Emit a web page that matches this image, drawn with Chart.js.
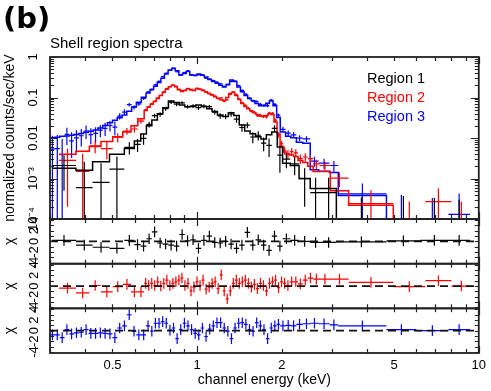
<!DOCTYPE html>
<html>
<head>
<meta charset="utf-8">
<title>Shell region spectra</title>
<script src="https://cdn.jsdelivr.net/npm/chart.js@4.4.1/dist/chart.umd.min.js"></script>
<style>
html, body { margin: 0; padding: 0; background: #ffffff; }
canvas { display: block; }
</style>
</head>
<body>
<canvas id="chart" width="491" height="391"></canvas>
<script>
// ---------------- data ----------------
const panelLabel = '(b)';
const plotTitle = 'Shell region spectra';
const regionNames = ['Region 1', 'Region 2', 'Region 3'];

// axis tick values / labels
const energyTickMarks = [0.3, 0.4, 0.5, 0.6, 0.7, 0.8, 0.9, 1, 2, 3, 4, 5, 6, 7, 8, 9, 10];
const energyTickValues = [0.5, 1, 2, 5, 10];
const energyTickLabels = ['0.5', '1', '2', '5', '10'];
const countTickValues = [1e-4, 1e-3, 0.01, 0.1, 1];
const countTickLabels = ['10\u207B\u2074', '10\u207B\u00B3', '0.01', '0.1', '1'];
const chiTickValues = [-4, -2, 0, 2, 4];
const chiTickMarks = [-4, -3, -2, -1, 0, 1, 2, 3, 4];

// Region 1 (black): bin edges (keV), rate, error, model, chi residual
const edges1 = [0.305,0.371,0.425,0.488,0.551,0.598,0.630,0.660,0.690,0.722,
  0.755,0.790,0.826,0.864,0.904,0.945,0.988,1.033,1.080,1.129,
  1.180,1.234,1.290,1.349,1.410,1.474,1.541,1.611,1.684,1.760,
  1.840,1.924,2.01,2.14,2.30,2.52,2.75,3.12,4.70,6.20,7.80,9.30];
const model1 = [0.0018,0.0016,0.0026,0.0040,0.0055,0.0085,0.0125,0.020,0.028,0.040,
  0.056,0.082,0.075,0.065,0.059,0.060,0.065,0.060,0.053,0.045,
  0.037,0.034,0.042,0.036,0.021,0.015,0.0128,0.0108,0.0095,0.0120,
  0.0140,0.0060,0.0024,0.0021,0.0010,0.00057,0.00057,0.00003,0.00003,0.00003,0.00003];
const rate1 = [0.0021,0.0006,0.0008,0.0017,0.0059,0.0070,0.0098,0.0218,0.0356,0.0385,
  0.053,0.0768,0.0685,0.0738,0.0597,0.062,0.0562,0.0613,0.0593,0.0438,
  0.0354,0.034,0.0392,0.0292,0.0182,0.0208,0.0106,0.0117,0.0075,0.0066,
  0.0174,0.0038,0.0030,0.0023,0.0010,0.00045,0.00045,0.00004,0.0,0.0,0.0];
const err1 = [0.0016,0.0020,0.0016,0.0018,0.0020,0.0025,0.003,0.0035,0.0042,0.005,
  0.006,0.0075,0.0072,0.0068,0.0065,0.0066,0.0068,0.0066,0.0063,0.0058,
  0.0053,0.005,0.0056,0.0052,0.004,0.0034,0.0032,0.003,0.0028,0.0032,
  0.0034,0.0024,0.0012,0.0011,0.0008,0.0006,0.0006,0.0003,0.00037,0.00033,0.0003];
const chi1 = [0.2,-0.7,-1.1,-1.3,0.2,-0.6,-0.9,0.5,1.8,-0.3,
  -0.5,-0.7,-0.9,1.3,0.1,0.3,-1.3,0.2,1.0,-0.2,
  -0.3,0.0,-0.5,-1.3,-0.7,1.7,-0.7,0.3,-0.7,-1.7,
  1.0,-0.9,0.5,0.2,0.0,-0.2,-0.2,-0.1,0.1,0.2,0.2];

// Region 2 (red)
const edges2 = [0.323,0.371,0.414,0.455,0.501,0.544,0.582,0.615,0.648,
  0.664,0.681,0.698,0.715,0.733,0.752,0.770,0.790,0.809,0.830,
  0.850,0.872,0.893,0.916,0.939,0.962,0.986,1.011,1.036,1.062,
  1.089,1.116,1.144,1.172,1.202,1.232,1.262,1.294,1.327,1.360,
  1.394,1.428,1.464,1.501,1.538,1.577,1.616,1.656,1.698,1.740,
  1.784,1.828,1.874,1.921,1.969,2.018,
  2.07,2.13,2.20,2.28,2.37,2.47,2.58,2.72,2.97,3.45,4.97,6.46,8.00,9.40];
const model2 = [0.0040,0.0047,0.0062,0.0082,0.0108,0.0140,0.020,0.030,
  0.048,0.058,0.068,0.080,0.095,0.112,0.135,0.160,0.185,0.200,
  0.185,0.155,0.140,0.150,0.165,0.158,0.150,0.165,0.160,0.148,
  0.138,0.126,0.115,0.105,0.096,0.088,0.085,0.100,0.125,0.135,
  0.112,0.089,0.071,0.060,0.053,0.047,0.042,0.038,0.035,0.034,
  0.036,0.040,0.038,0.025,0.0125,0.0063,
  0.0045,0.0040,0.0038,0.0035,0.0028,0.0025,0.0020,0.0015,0.0015,0.0005,0.00022,0.00004,0.00004,0.00004];
const rate2 = [0.0028,0.0015,0.0064,0.0055,0.0105,0.0148,0.0167,0.026,
  0.0495,0.0583,0.0699,0.0804,0.0986,0.112,0.138,0.167,0.186,0.203,
  0.190,0.162,0.149,0.151,0.168,0.152,0.149,0.170,0.161,0.155,
  0.135,0.125,0.118,0.109,0.094,0.098,0.081,0.088,0.120,0.138,
  0.118,0.091,0.074,0.064,0.055,0.046,0.043,0.036,0.0365,0.0343,
  0.0333,0.0416,0.0405,0.0278,0.0120,0.0073,
  0.0050,0.0041,0.0046,0.0043,0.0031,0.0034,0.0031,0.0023,0.0021,0.00102,0.00024,0.0,0.00027,0.0];
const err2 = [0.0026,0.0026,0.0022,0.0025,0.0027,0.0028,0.003,0.0036,
  0.003,0.0033,0.0037,0.004,0.0045,0.005,0.0055,0.006,0.0065,0.0068,
  0.0065,0.006,0.0057,0.0059,0.0062,0.0061,0.0059,0.0062,0.0061,0.0059,
  0.0057,0.0055,0.0052,0.005,0.0048,0.0046,0.0045,0.0049,0.0055,0.0057,
  0.0052,0.0046,0.0041,0.0038,0.0036,0.0034,0.0032,0.0031,0.003,0.003,
  0.003,0.0032,0.0031,0.0025,0.0018,0.0013,
  0.0011,0.001,0.001,0.00095,0.00085,0.0008,0.0007,0.0006,0.0005,0.0004,0.00028,0.00027,0.00031,0.00027];
const chi2 = [-0.4,-1.3,0.1,-1.1,-0.1,0.3,-1.1,-1.1,
  0.5,0.1,0.5,0.1,0.8,0.0,0.5,1.1,0.1,0.5,
  0.8,1.1,1.5,0.1,0.5,-0.9,-0.2,0.8,0.1,1.1,
  -0.6,-0.2,0.5,0.8,-0.5,2.1,-0.9,-2.4,-0.9,0.5,
  1.1,0.5,0.8,1.1,0.5,-0.2,0.3,-0.5,0.5,0.1,
  -0.9,0.5,0.8,1.1,-0.3,0.8,
  0.5,0.1,0.8,0.8,0.4,1.1,1.5,1.3,1.3,1.3,0.7,-0.1,1.0,0.0];

// Region 3 (blue)
const edges3 = [0.300,0.312,0.325,0.338,0.351,0.365,0.380,0.395,0.411,0.427,
  0.444,0.462,0.480,0.500,0.520,0.541,0.562,0.585,0.608,0.633,
  0.658,0.680,0.700,0.721,0.743,0.765,0.788,0.812,0.836,0.861,
  0.887,0.914,0.941,0.969,0.998,1.028,1.059,1.091,1.124,1.158,
  1.193,1.229,1.266,1.304,1.343,1.383,1.424,1.467,1.511,1.556,
  1.603,1.651,1.701,1.752,1.805,1.859,1.915,1.972,2.06,2.15,
  2.25,2.37,2.52,2.70,2.95,3.17,4.70,6.00,7.80,9.30];
const model3 = [0.0102,0.0105,0.0110,0.0112,0.0117,0.0123,0.0129,0.0138,0.0148,0.0158,
  0.0178,0.0204,0.024,0.0275,0.0316,0.037,0.046,0.058,0.076,0.102,
  0.129,0.158,0.19,0.234,0.30,0.38,0.47,0.52,0.46,0.36,
  0.39,0.44,0.36,0.355,0.38,0.355,0.32,0.28,0.25,0.224,
  0.20,0.182,0.21,0.27,0.25,0.182,0.138,0.112,0.095,0.083,
  0.071,0.063,0.063,0.072,0.083,0.063,0.032,0.0141,0.011,0.0102,
  0.0079,0.0074,0.00166,0.00151,0.00141,0.00038,0.00005,0.00005,0.00005];
const rate3 = [0.0053,0.0055,0.0039,0.0123,0.0085,0.0101,0.0114,0.0149,0.0122,0.0130,
  0.0157,0.0173,0.0204,0.0186,0.0348,0.0437,0.0667,0.0573,0.070,0.0955,
  0.137,0.157,0.206,0.250,0.326,0.401,0.472,0.530,0.432,0.363,
  0.415,0.458,0.363,0.347,0.366,0.363,0.302,0.284,0.261,0.241,
  0.217,0.187,0.209,0.250,0.256,0.196,0.150,0.121,0.0963,0.0824,
  0.0795,0.0678,0.0641,0.0634,0.0861,0.0678,0.0366,0.0164,0.0132,0.0120,
  0.0100,0.0095,0.0027,0.0024,0.0021,0.00042,0.00003,0.00002,0.00013];
const err3 = [0.0061,0.0063,0.0055,0.0056,0.0053,0.0055,0.0052,0.0055,0.0052,0.0055,
  0.0053,0.0061,0.006,0.0069,0.0063,0.0074,0.0069,0.007,0.0076,0.0082,
  0.009,0.0095,0.0114,0.0117,0.015,0.0152,0.0188,0.0208,0.0184,0.0162,
  0.0176,0.0198,0.0162,0.016,0.0171,0.016,0.016,0.014,0.0125,0.0112,
  0.011,0.010,0.0116,0.0135,0.0125,0.010,0.0083,0.0073,0.0067,0.0062,
  0.0057,0.0054,0.0054,0.0058,0.0062,0.0054,0.0038,0.0025,0.0022,0.002,
  0.0017,0.0016,0.00075,0.00068,0.00063,0.00034,0.00036,0.00031,0.00030];
const chi3 = [-0.8,-0.8,-1.3,0.2,-0.6,-0.4,-0.3,0.2,-0.5,-0.5,
  -0.4,-0.5,-0.6,-1.3,0.5,0.9,3.0,-0.1,-0.8,-0.8,
  0.9,-0.1,1.4,1.4,1.7,1.4,0.1,0.5,-1.5,0.2,
  1.4,0.9,0.2,-0.5,-0.8,0.5,-1.1,0.3,0.9,1.5,
  1.5,0.5,-0.1,-1.5,0.5,1.4,1.5,1.2,0.2,-0.1,
  1.5,0.9,0.2,-1.5,0.5,0.9,1.2,0.9,1.0,0.9,
  1.2,1.3,1.4,1.3,1.1,0.9,0.2,0.0,0.2];

// ---------------- styles ----------------
const FONT = "'Liberation Sans', Arial, Helvetica, sans-serif";
const regionColors = ['#000000', '#ff0000', '#0000ff'];
const chiAxes = ['r1', 'r2', 'r3'];
Chart.defaults.font.family = FONT;
Chart.defaults.color = '#000';

const FLOOR = 1e-7; // below the log axis: lets bars run off the bottom

function crossPoints(edges, vals, errs) {
  const pts = [];
  vals.forEach((v, i) => {
    const lo = edges[i], hi = edges[i + 1], c = Math.sqrt(lo * hi);
    const y = Math.max(v, FLOOR);
    pts.push({x: lo, y: y}, {x: hi, y: y}, {x: hi, y: null});
    pts.push({x: c, y: Math.max(v - errs[i], FLOOR)}, {x: c, y: Math.max(v + errs[i], FLOOR)}, {x: c, y: null});
  });
  return pts;
}
function chiPoints(edges, chis) {
  const pts = [];
  chis.forEach((v, i) => {
    const lo = edges[i], hi = edges[i + 1], c = Math.sqrt(lo * hi);
    pts.push({x: lo, y: v}, {x: hi, y: v}, {x: hi, y: null});
    pts.push({x: c, y: v - 1}, {x: c, y: v + 1}, {x: c, y: null});
  });
  return pts;
}
function stepPoints(edges, vals) {
  const pts = [];
  vals.forEach((v, i) => {
    const y = Math.max(v, FLOOR);
    pts.push({x: edges[i], y: y}, {x: edges[i + 1], y: y});
  });
  return pts;
}

const regions = [
  {edges: edges1, model: model1, rate: rate1, err: err1, chi: chi1},
  {edges: edges2, model: model2, rate: rate2, err: err2, chi: chi2},
  {edges: edges3, model: model3, rate: rate3, err: err3, chi: chi3}
];

const base = {type: 'line', pointRadius: 0, pointHoverRadius: 0, fill: false, tension: 0, spanGaps: false, xAxisID: 'x'};
const datasets = [];
chiAxes.forEach(id => {
  datasets.push(Object.assign({}, base, {
    data: [{x: 0.3, y: 0}, {x: 10, y: 0}], yAxisID: id,
    borderColor: '#111111', borderWidth: 1.7, borderDash: [8, 5]
  }));
});
regions.forEach((r, k) => {
  datasets.push(Object.assign({}, base, {data: crossPoints(r.edges, r.rate, r.err), yAxisID: 'y', borderColor: regionColors[k], borderWidth: 1.2}));
  datasets.push(Object.assign({}, base, {data: stepPoints(r.edges, r.model), yAxisID: 'y', borderColor: regionColors[k], borderWidth: 1.5}));
  datasets.push(Object.assign({}, base, {data: chiPoints(r.edges, r.chi), yAxisID: chiAxes[k], borderColor: regionColors[k], borderWidth: 1.2}));
});

// tick marks of the count axis: 1..9 per decade
const countTickMarks = [];
countTickValues.slice(0, 4).forEach(d => { for (let m = 1; m <= 9; m++) countTickMarks.push(m * d); });
countTickMarks.push(1);

function labelFor(values, labels) {
  return v => {
    const i = values.findIndex(t => Math.abs(t - v) <= Math.abs(t) * 1e-6 + 1e-12);
    return i >= 0 ? labels[i] : '';
  };
}

const noGrid = {display: false, drawTicks: false, tickLength: 0};
function chiScale(extraTitle) {
  return {
    type: 'linear', position: 'left', stack: 'panels', stackWeight: 1,
    min: -4.2, max: 4.2,
    afterBuildTicks: s => { s.ticks = chiTickValues.map(v => ({value: v})); },
    ticks: {autoSkip: false, minRotation: 90, maxRotation: 90, crossAlign: 'center', padding: 10,
            font: {size: 13}, color: '#000', callback: v => String(v)},
    grid: noGrid, border: {display: false},
    title: {display: true, text: '\u03C7', font: {size: 14}, color: '#000', padding: {top: 2, bottom: 0}},
    afterFit: s => { s.width = 50; }
  };
}

// frame, inward tick marks, clipping per panel and free texts
const decor = {
  id: 'decor',
  beforeDatasetDraw(chart, args) {
    const ys = chart.scales[args.meta.yAxisID];
    const ca = chart.chartArea;
    const ctx = chart.ctx;
    ctx.save();
    ctx.beginPath();
    ctx.rect(ca.left, ys.top, ca.right - ca.left, ys.bottom - ys.top);
    ctx.clip();
  },
  afterDatasetDraw(chart) { chart.ctx.restore(); },
  afterDatasetsDraw(chart) {
    const {ctx, chartArea: ca, scales} = chart;
    const xs = scales.x;
    ctx.save();
    ctx.strokeStyle = '#222222';
    ['y', 'r1', 'r2', 'r3'].forEach(id => {
      const s = scales[id];
      ctx.lineWidth = 1.2;
      ctx.beginPath();
      energyTickMarks.forEach(v => {
        const px = Math.round(xs.getPixelForValue(v)) + 0.5;
        const len = (v === 1 || v === 10) ? 7 : 4;
        ctx.moveTo(px, s.top); ctx.lineTo(px, s.top + len);
        ctx.moveTo(px, s.bottom); ctx.lineTo(px, s.bottom - len);
      });
      const marks = id === 'y' ? countTickMarks : chiTickMarks;
      marks.forEach(v => {
        const py = Math.round(s.getPixelForValue(v)) + 0.5;
        let len = 4;
        if (id === 'y' && countTickValues.some(t => Math.abs(t - v) < t * 1e-6)) len = 8;
        ctx.moveTo(ca.left, py); ctx.lineTo(ca.left + len, py);
        ctx.moveTo(ca.right, py); ctx.lineTo(ca.right - len, py);
      });
      ctx.stroke();
      ctx.lineWidth = 1.8;
      ctx.strokeRect(ca.left, s.top, ca.right - ca.left, s.bottom - s.top);
    });
    ctx.restore();
  },
  afterDraw(chart) {
    const ctx = chart.ctx;
    ctx.save();
    ctx.textAlign = 'left';
    ctx.textBaseline = 'alphabetic';
    ctx.fillStyle = '#000';
    ctx.font = "bold 29px 'DejaVu Sans', sans-serif";
    ctx.fillText(panelLabel, 3, 28);
    ctx.font = '15px ' + FONT;
    ctx.fillText(plotTitle, 50, 48);
    ctx.font = '14.5px ' + FONT;
    regionNames.forEach((n, k) => {
      ctx.fillStyle = regionColors[k];
      ctx.fillText(n, 367, 83 + k * 19);
    });
    ctx.restore();
  }
};

new Chart(document.getElementById('chart'), {
  type: 'line',
  data: {datasets: datasets},
  options: {
    responsive: false,
    animation: false,
    devicePixelRatio: 1,
    events: [],
    layout: {padding: {top: 57, right: 11, bottom: 2, left: 0}},
    plugins: {legend: {display: false}, tooltip: {enabled: false}, title: {display: false}},
    scales: {
      x: {
        type: 'logarithmic', position: 'bottom', min: 0.3, max: 10,
        afterBuildTicks: s => { s.ticks = energyTickMarks.map(v => ({value: v})); },
        ticks: {autoSkip: false, maxRotation: 0, minRotation: 0, padding: 5, font: {size: 13}, color: '#000',
                callback: labelFor(energyTickValues, energyTickLabels)},
        grid: noGrid, border: {display: false},
        title: {display: true, text: 'channel energy (keV)', font: {size: 14}, color: '#000', padding: {top: 0, bottom: 0}},
        afterFit: s => { s.height = 36; }
      },
      r3: chiScale(),
      r2: chiScale(),
      r1: chiScale(),
      y: {
        type: 'logarithmic', position: 'left', stack: 'panels', stackWeight: 3.63,
        min: 1e-4, max: 1,
        afterBuildTicks: s => { s.ticks = countTickMarks.map(v => ({value: v})); },
        ticks: {autoSkip: false, minRotation: 90, maxRotation: 90, crossAlign: 'center', padding: 4,
                font: {size: 13}, color: '#000', callback: labelFor(countTickValues, countTickLabels)},
        grid: noGrid, border: {display: false},
        title: {display: true, text: 'normalized counts/sec/keV', font: {size: 14}, color: '#000', padding: {top: 2, bottom: 0}},
        afterFit: s => { s.width = 50; }
      }
    }
  },
  plugins: [decor]
});
</script>
</body>
</html>
